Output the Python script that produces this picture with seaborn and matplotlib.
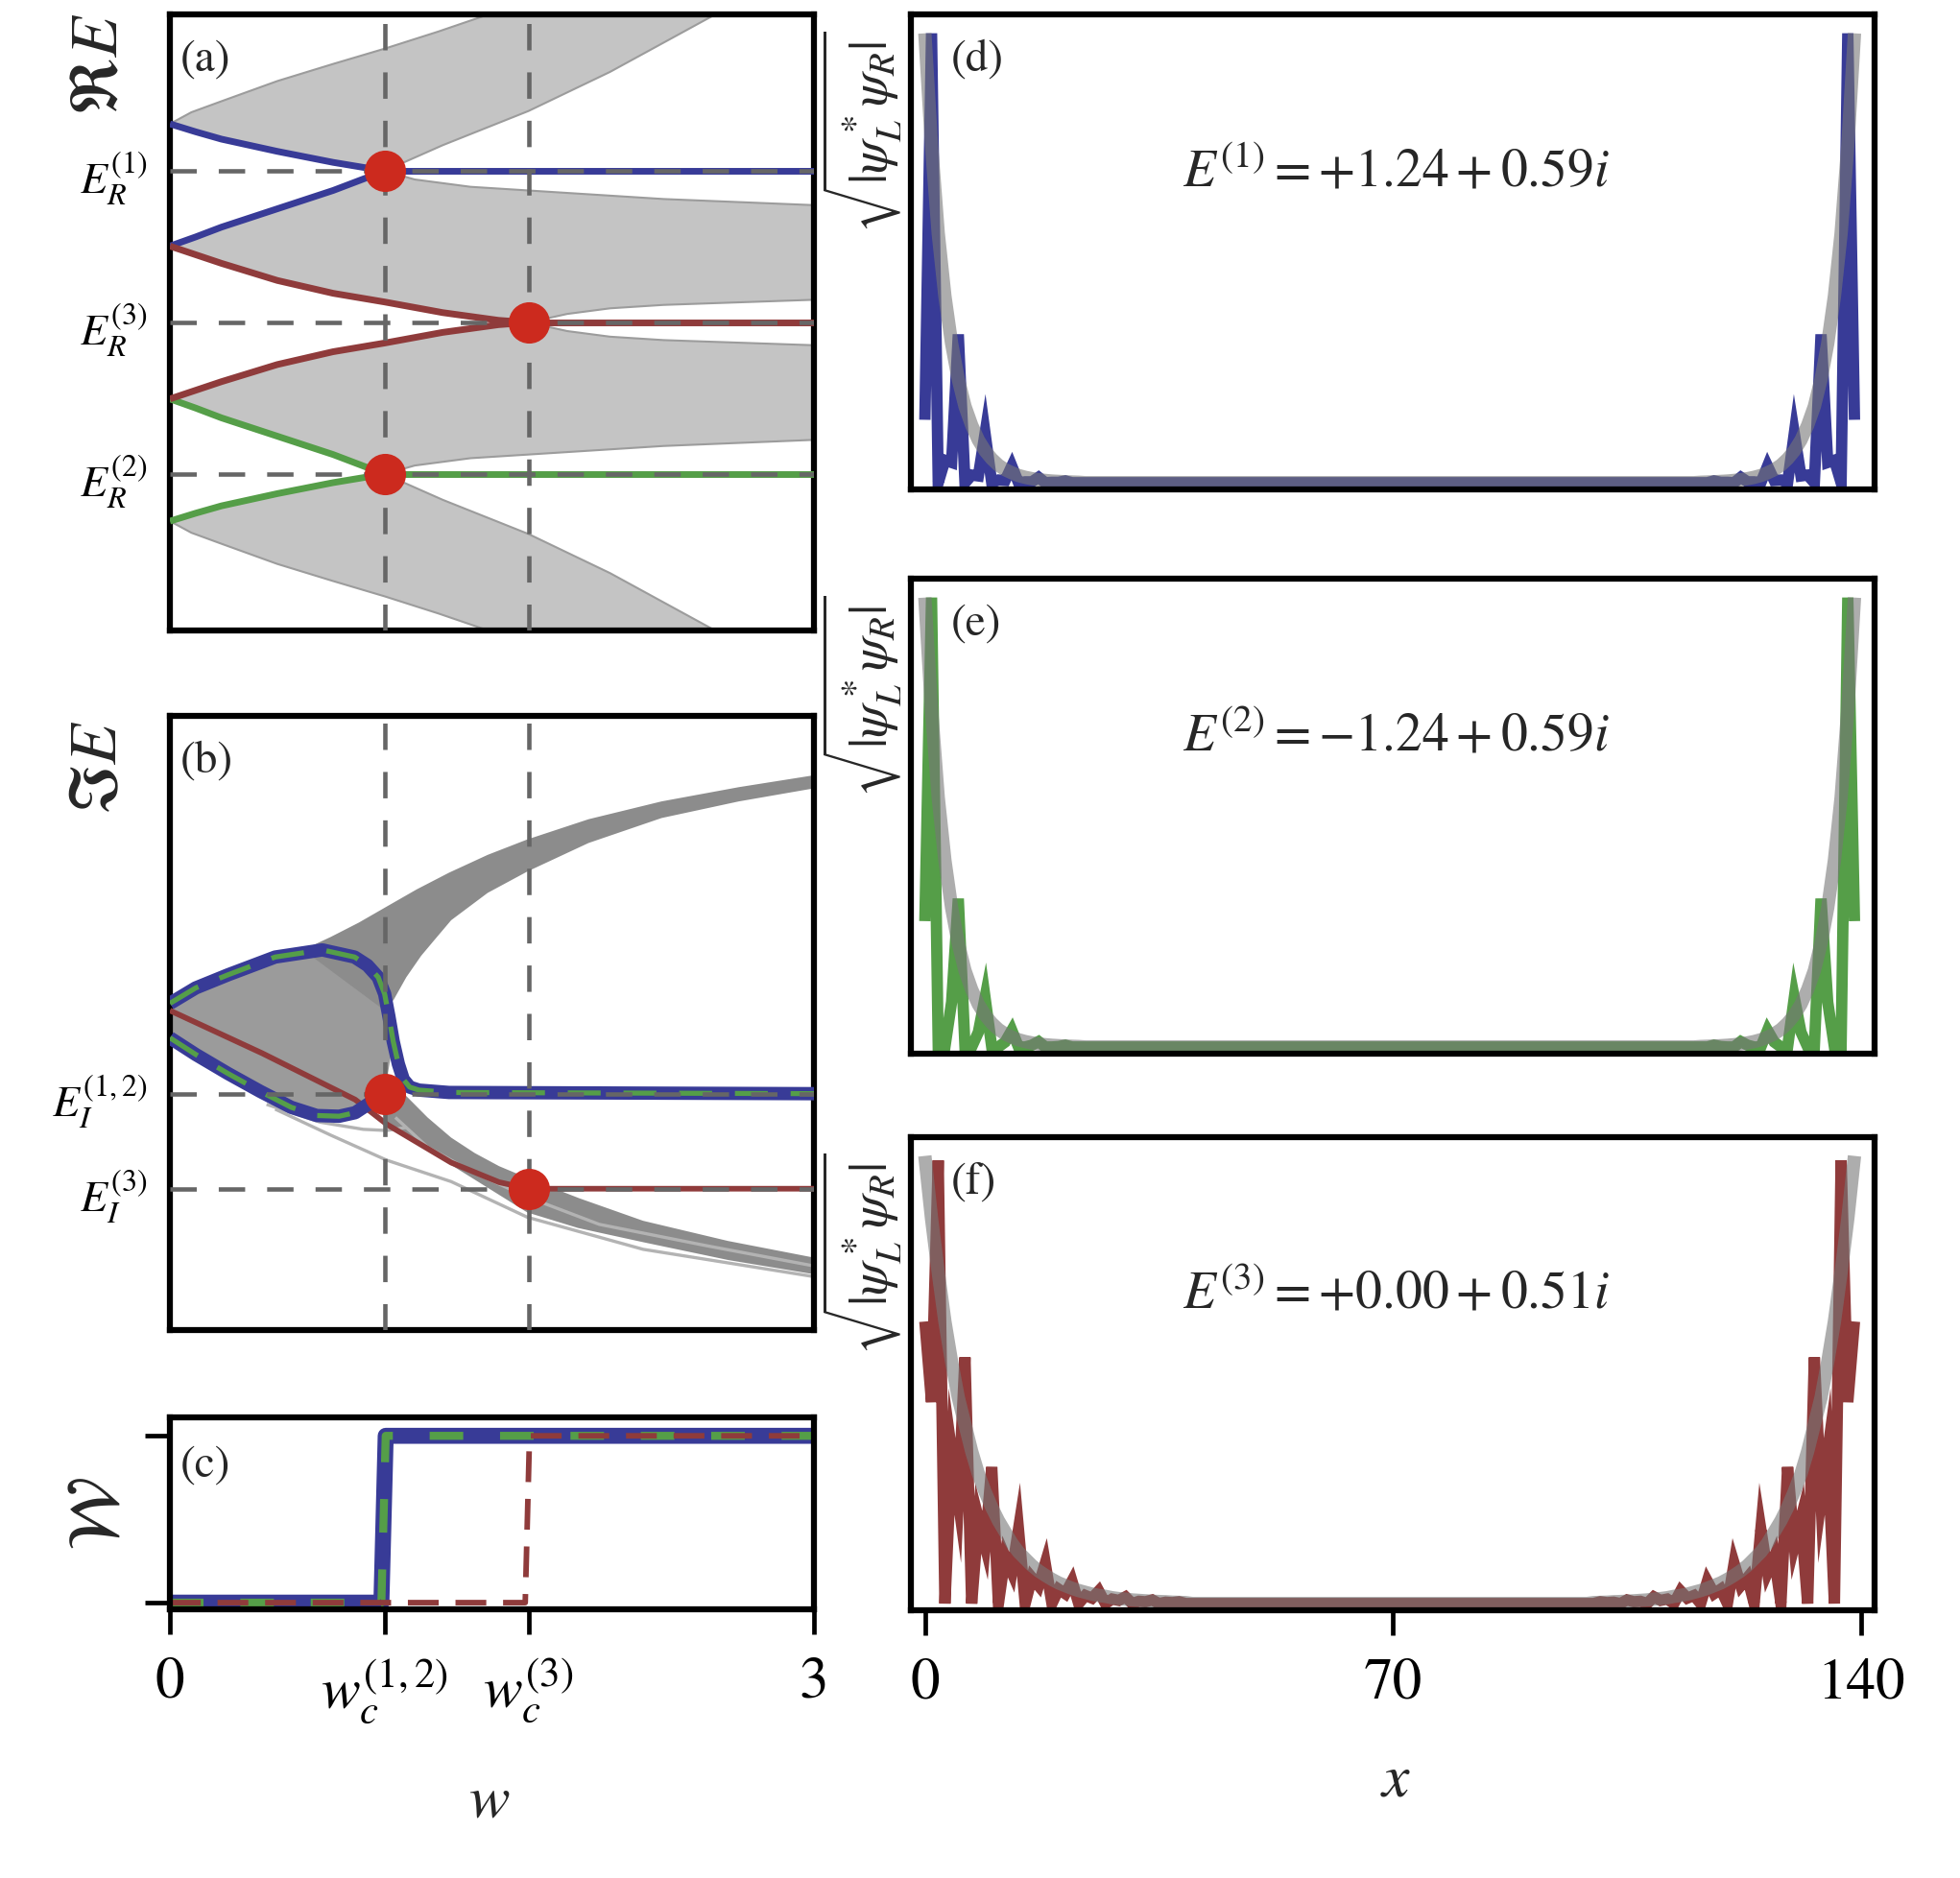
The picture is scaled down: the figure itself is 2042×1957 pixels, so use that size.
import numpy as np
import matplotlib
matplotlib.use("Agg")
import matplotlib.pyplot as plt
import seaborn as sns

# ---------------- values ----------------
w_c12 = 1.0
w_c3 = 1.67
ER_levels = [1.24, 0.0, -1.24]          # E_R^(1), E_R^(3), E_R^(2)
EI_levels = [0.59, 0.51]                # E_I^(1,2), E_I^(3)

# (a) real part, upper half (lower half is the mirror image)
w_ep1 = [0.0, 0.12, 0.24, 0.5, 0.76, 0.88, 1.0]
blue_up_a = [1.625, 1.56, 1.50, 1.40, 1.31, 1.275, 1.24]
blue_lo_a = [0.625, 0.70, 0.78, 0.93, 1.08, 1.16, 1.24]
w_ep3 = [0.0, 0.24, 0.5, 0.76, 1.0, 1.27, 1.53, 1.67]
red_up_a = [0.625, 0.484, 0.344, 0.239, 0.168, 0.081, 0.018, 0.0]

w_band1_top = [0.0, 0.1, 0.24, 0.5, 0.76, 1.0, 1.25, 1.5, 2.6]
E_band1_top = [1.625, 1.72, 1.81, 1.975, 2.115, 2.24, 2.38, 2.53, 2.6]
w_band1_bot = [1.0, 1.27, 1.67, 2.05, 2.54, 2.6]
E_band1_bot = [1.24, 1.45, 1.73, 2.05, 2.52, 2.6]
w_band2_top = [1.0, 1.14, 1.4, 1.67, 2.3, 3.0]
E_band2_top = [1.24, 1.17, 1.11, 1.08, 1.01, 0.96]
w_band2_bot = [1.67, 1.85, 2.05, 2.3, 3.0]
E_band2_bot = [0.0, 0.07, 0.116, 0.144, 0.186]

# (b) imaginary part
w_loop_up = [0.0, 0.12, 0.27, 0.49, 0.71, 0.86, 0.92, 0.97, 1.0, 1.02, 1.04,
             1.064, 1.087, 1.117, 1.16, 1.3, 3.0]
E_loop_up = [0.666, 0.679, 0.690, 0.705, 0.711, 0.705, 0.698, 0.688, 0.674,
             0.655, 0.634, 0.615, 0.602, 0.5955, 0.593, 0.591, 0.59]
w_loop_lo = [0.0, 0.12, 0.27, 0.42, 0.565, 0.684, 0.788, 0.863, 0.922, 0.967, 1.0]
E_loop_lo = [0.637, 0.623, 0.607, 0.592, 0.5785, 0.5716, 0.571, 0.574, 0.581, 0.587, 0.59]
w_red_b = [0.0, 0.43, 0.863, 1.012, 1.31, 1.533, 1.67, 3.0]
E_red_b = [0.66, 0.624, 0.585, 0.564, 0.532, 0.5155, 0.51, 0.51]

w_upb_top = [0.62, 0.75, 0.88, 1.005, 1.15, 1.3, 1.48, 1.665, 1.95, 2.29, 2.65, 3.0]
E_upb_top = [0.711, 0.722, 0.734, 0.747, 0.762, 0.776, 0.791, 0.804, 0.821, 0.836, 0.848, 0.858]
w_upb_bot = [1.0, 1.042, 1.101, 1.17, 1.235, 1.31, 1.48, 1.665, 1.95, 2.29, 2.65, 3.0]
E_upb_bot = [0.66, 0.669, 0.688, 0.706, 0.72, 0.736, 0.759, 0.777, 0.801, 0.822, 0.836, 0.847]
w_lob_top = [1.0, 1.101, 1.2, 1.31, 1.42, 1.533, 1.665, 1.906, 2.204, 2.6, 3.0]
E_lob_top = [0.59, 0.588, 0.57, 0.553, 0.54, 0.529, 0.519, 0.502, 0.483, 0.466, 0.452]
w_lob_bot = [1.0, 1.31, 1.665, 1.9, 2.204, 2.6, 3.0]
E_lob_bot = [0.566, 0.53, 0.49, 0.477, 0.465, 0.45, 0.438]
w_faint1 = [0.45, 0.7, 0.9, 1.01, 1.1]
E_faint1 = [0.581, 0.566, 0.56, 0.559, 0.5615]
w_faint2 = [0.49, 0.75, 1.01, 1.31, 1.665, 2.204, 3.0]
E_faint2 = [0.577, 0.555, 0.534, 0.516, 0.486, 0.459, 0.436]
w_faint3 = [1.05, 1.2, 1.4, 1.665, 2.0, 2.5, 3.0]
E_faint3 = [0.57, 0.545, 0.525, 0.503, 0.48, 0.462, 0.445]

# (c) winding number
w_W12 = [0.0, 0.985, 1.005, 3.0]
W12 = [0, 0, 1, 1]
w_W3 = [0.0, 1.655, 1.675, 3.0]
W3 = [0, 0, 1, 1]

# (d)-(f) edge profiles, left edge (right edge is the mirror)
n_sites = 140
edge_d = [0.14, 1.0, 0.0, 0.05, 0.045, 0.33, 0.0, 0.017, 0.015, 0.11, 0.0, 0.006,
          0.005, 0.037, 0.0, 0.002, 0.002, 0.012, 0.0, 0.001, 0.001, 0.004]
edge_e = [0.28, 1.0, 0.0, 0.0, 0.10, 0.33, 0.0, 0.0, 0.033, 0.11, 0.0, 0.0,
          0.011, 0.037, 0.0, 0.0, 0.004, 0.012, 0.0, 0.0, 0.001, 0.004]
edge_f = [0.63, 0.45, 0.99, 0.0, 0.34, 0.23, 0.55, 0.0, 0.19, 0.13, 0.305, 0.0,
          0.105, 0.07, 0.166, 0.0, 0.058, 0.04, 0.09, 0.0, 0.032, 0.022, 0.05, 0.0,
          0.018, 0.012, 0.028, 0.0, 0.01, 0.007, 0.015, 0.0, 0.005, 0.004, 0.008, 0.0,
          0.003, 0.002, 0.004, 0.0]
env_de = [1.0, 0.75, 0.555, 0.415, 0.31, 0.23, 0.17, 0.128, 0.095, 0.071, 0.053,
          0.039, 0.029, 0.022, 0.016, 0.012, 0.009, 0.0067, 0.005, 0.0037, 0.0028,
          0.002, 0.0015, 0.001]
env_f = [1.0, 0.86, 0.74, 0.63, 0.54, 0.46, 0.40, 0.34, 0.29, 0.25, 0.215, 0.185,
         0.16, 0.135, 0.115, 0.10, 0.085, 0.073, 0.063, 0.054, 0.046, 0.04, 0.034,
         0.029, 0.025, 0.021, 0.018, 0.016, 0.013, 0.011, 0.01, 0.008, 0.007, 0.006,
         0.005, 0.0045, 0.004, 0.003, 0.0025, 0.002]
energy_txt = [r"$E^{(1)} = +1.24+0.59i$", r"$E^{(2)} = -1.24+0.59i$",
              r"$E^{(3)} = +0.00+0.51i$"]

# ---------------- style ----------------
BLUE = "#383b97"
RED = "#8f3b3b"
GREEN = "#559e48"
DOT = "#cc2a1e"
DGRAY = "#666666"
DASH = (0, (6, 5))
LW_DASH = 3.3
LW_A = 5.0

sns.set_theme(style="ticks", rc={"axes.edgecolor": "black", "axes.linewidth": 4.5,
                                 "xtick.color": "black", "ytick.color": "black"})
plt.rcParams["font.family"] = ["STIXGeneral", "DejaVu Sans"]
plt.rcParams["mathtext.fontset"] = "stix"
plt.rcParams["lines.solid_capstyle"] = "butt"
plt.rcParams["lines.dash_capstyle"] = "butt"


def full_profile(edge):
    arr = np.zeros(n_sites)
    arr[:len(edge)] = edge
    arr[n_sites - len(edge):] = np.array(edge)[::-1]
    return arr


def band(ax, x_lo, y_lo, x_hi, y_hi, fc):
    xs = np.r_[x_lo, np.array(x_hi)[::-1]]
    ys = np.r_[y_lo, np.array(y_hi)[::-1]]
    ax.fill(xs, ys, color=fc, lw=0, zorder=1)


fig = plt.figure(figsize=(20.42, 19.58), dpi=100)
ax_a = fig.add_axes([0.0867, 0.6639, 0.3286, 0.3279])
ax_b = fig.add_axes([0.0867, 0.2916, 0.3286, 0.3269])
ax_c = fig.add_axes([0.0867, 0.1430, 0.3286, 0.1021])
ax_d = fig.add_axes([0.4647, 0.7390, 0.4917, 0.2528])
ax_e = fig.add_axes([0.4647, 0.4387, 0.4917, 0.2528])
ax_f = fig.add_axes([0.4647, 0.1425, 0.4917, 0.2518])

# ---------------- (a) ----------------
ax = ax_a
BAND_A = "#c4c4c4"
EDGE_A = "#9c9c9c"
for s in (1, -1):
    # outer band
    band(ax, np.r_[w_ep1, w_band1_bot[1:]], s * np.r_[blue_up_a, E_band1_bot[1:]],
         w_band1_top, s * np.array(E_band1_top), BAND_A)
    ax.plot(w_band1_top, s * np.array(E_band1_top), color=EDGE_A, lw=1.5, zorder=1)
    ax.plot(w_band1_bot, s * np.array(E_band1_bot), color=EDGE_A, lw=1.5, zorder=1)
    # inner band
    band(ax, np.r_[w_ep3, w_band2_bot[1:]], s * np.r_[red_up_a, E_band2_bot[1:]],
         np.r_[w_ep1, w_band2_top[1:]], s * np.r_[blue_lo_a, E_band2_top[1:]], BAND_A)
    ax.plot(w_band2_top, s * np.array(E_band2_top), color=EDGE_A, lw=1.5, zorder=1)
    ax.plot(w_band2_bot, s * np.array(E_band2_bot), color=EDGE_A, lw=1.5, zorder=1)

ax.plot(w_ep1, blue_up_a, color=BLUE, lw=LW_A, zorder=3)
ax.plot(w_ep1, blue_lo_a, color=BLUE, lw=LW_A, zorder=3)
ax.plot([w_c12, 3], [ER_levels[0]] * 2, color=BLUE, lw=LW_A, zorder=3)
ax.plot(w_ep1, -np.array(blue_up_a), color=GREEN, lw=LW_A, zorder=3)
ax.plot(w_ep1, -np.array(blue_lo_a), color=GREEN, lw=LW_A, zorder=3)
ax.plot([w_c12, 3], [ER_levels[2]] * 2, color=GREEN, lw=LW_A, zorder=3)
ax.plot(w_ep3, red_up_a, color=RED, lw=LW_A, zorder=3)
ax.plot(w_ep3, -np.array(red_up_a), color=RED, lw=LW_A, zorder=3)
ax.plot([w_c3, 3], [ER_levels[1]] * 2, color=RED, lw=LW_A, zorder=3)
for lev in ER_levels:
    ax.axhline(lev, color=DGRAY, lw=LW_DASH, ls=DASH, zorder=4)
ax.plot([w_c12, w_c3, w_c12], ER_levels, "o", ms=30, color=DOT, zorder=6)
ax.set_ylim(-2.52, 2.52)
ax.set_yticks(ER_levels)
ax.set_yticklabels([r"$E_R^{(1)}$", r"$E_R^{(3)}$", r"$E_R^{(2)}$"], fontsize=33)
ax.text(-0.107, 1.005, r"$\Re E$", transform=ax.transAxes, rotation=90,
        ha="center", va="top", fontsize=50)
ax.text(0.016, 0.962, "(a)", transform=ax.transAxes, ha="left", va="top", fontsize=34)

# ---------------- (b) ----------------
ax = ax_b
band(ax, w_loop_lo, E_loop_lo, w_loop_up[:11], E_loop_up[:11], "#9b9b9b")
band(ax, w_upb_bot, E_upb_bot, w_upb_top, E_upb_top, "#8c8c8c")
band(ax, w_lob_bot, E_lob_bot, w_lob_top, E_lob_top, "#8c8c8c")
for xs, ys in [(w_faint1, E_faint1), (w_faint2, E_faint2), (w_faint3, E_faint3)]:
    ax.plot(xs, ys, color="#b3b3b3", lw=2.4, zorder=1)
ax.plot(w_red_b, E_red_b, color=RED, lw=4.2, zorder=3)
ax.plot(w_loop_up, E_loop_up, color=BLUE, lw=10, zorder=3)
ax.plot(w_loop_lo, E_loop_lo, color=BLUE, lw=10, zorder=3)
ax.plot(w_loop_up, E_loop_up, color=GREEN, lw=3.8, ls=(0, (6.5, 4.5)), zorder=4)
ax.plot(w_loop_lo, E_loop_lo, color=GREEN, lw=3.8, ls=(0, (6.5, 4.5)), zorder=4)
for lev in EI_levels:
    ax.axhline(lev, color=DGRAY, lw=LW_DASH, ls=DASH, zorder=5)
ax.plot([w_c12, w_c3], EI_levels, "o", ms=30, color=DOT, zorder=6)
ax.set_ylim(0.391, 0.908)
ax.set_yticks(EI_levels)
ax.set_yticklabels([r"$E_I^{(1,2)}$", r"$E_I^{(3)}$"], fontsize=33)
ax.text(-0.107, 0.995, r"$\Im E$", transform=ax.transAxes, rotation=90,
        ha="center", va="top", fontsize=50)
ax.text(0.016, 0.962, "(b)", transform=ax.transAxes, ha="left", va="top", fontsize=34)

for ax in (ax_a, ax_b):
    ax.set_xlim(0, 3)
    ax.set_xticks([])
    ax.tick_params(axis="y", length=0, pad=17)
    for wc in (w_c12, w_c3):
        ax.axvline(wc, color=DGRAY, lw=LW_DASH, ls=DASH, zorder=4)

# ---------------- (c) ----------------
ax = ax_c
sns.lineplot(x=w_W12, y=W12, ax=ax, color=BLUE, lw=12, sort=False, estimator=None)
sns.lineplot(x=w_W12, y=W12, ax=ax, color=GREEN, lw=6, sort=False, estimator=None,
             linestyle=(0, (4.2, 4.6)))
sns.lineplot(x=w_W3, y=W3, ax=ax, color=RED, lw=4.2, sort=False, estimator=None,
             linestyle=(0, (5.5, 3.0)))
ax.set_xlim(0, 3)
ax.set_ylim(-0.04, 1.11)
ax.set_yticks([0, 1])
ax.set_yticklabels([])
ax.set_xticks([0, w_c12, w_c3, 3])
ax.set_xticklabels(["0", r"$w_c^{(1,2)}$", r"$w_c^{(3)}$", "3"], fontsize=44)
ax.tick_params(axis="both", length=19, width=3.4, direction="out", pad=16)
ax.text(-0.107, 0.5, r"$\mathcal{W}$", transform=ax.transAxes, rotation=90,
        ha="center", va="center", fontsize=54)
ax.text(0.016, 0.86, "(c)", transform=ax.transAxes, ha="left", va="top", fontsize=34)
ax.text(0.496, -1.0, r"$w$", transform=ax.transAxes, ha="center", va="center", fontsize=46)
ax.set_xlabel("")
ax.set_ylabel("")

# ---------------- (d)-(f) ----------------
sites = np.arange(n_sites)
profiles = [(ax_d, edge_d, env_de, BLUE, "(d)"),
            (ax_e, edge_e, env_de, GREEN, "(e)"),
            (ax_f, edge_f, env_f, RED, "(f)")]
for (ax, edge, env, col, lab), txt in zip(profiles, energy_txt):
    sns.lineplot(x=sites, y=full_profile(edge), ax=ax, color=col, lw=8.5,
                 estimator=None, solid_joinstyle="miter")
    sns.lineplot(x=sites, y=full_profile(env), ax=ax, color="#777777", lw=10,
                 alpha=0.6, estimator=None)
    ax.set_xlim(-2.1, 142)
    ax.set_ylim(-0.015, 1.042)
    ax.set_yticks([])
    ax.set_xlabel("")
    ax.set_ylabel("")
    ax.text(0.503, 0.67, txt, transform=ax.transAxes, ha="center", va="center",
            fontsize=40)
    ax.text(0.042, 0.95, lab, transform=ax.transAxes, ha="left", va="top", fontsize=34)
    ax.text(-0.006, 0.968, r"$\sqrt{|\psi_L^*\psi_R|}$", transform=ax.transAxes,
            rotation=90, ha="right", va="top", fontsize=40)

ax_d.set_xticks([])
ax_e.set_xticks([])
ax_f.set_xticks([0, 70, 140])
ax_f.set_xticklabels(["0", "70", "140"], fontsize=44)
ax_f.tick_params(axis="x", length=19, width=3.4, direction="out", pad=16)
ax_f.text(0.503, -0.359, r"$x$", transform=ax_f.transAxes, ha="center", va="center",
          fontsize=46)

fig.savefig("out.png", dpi=100)
